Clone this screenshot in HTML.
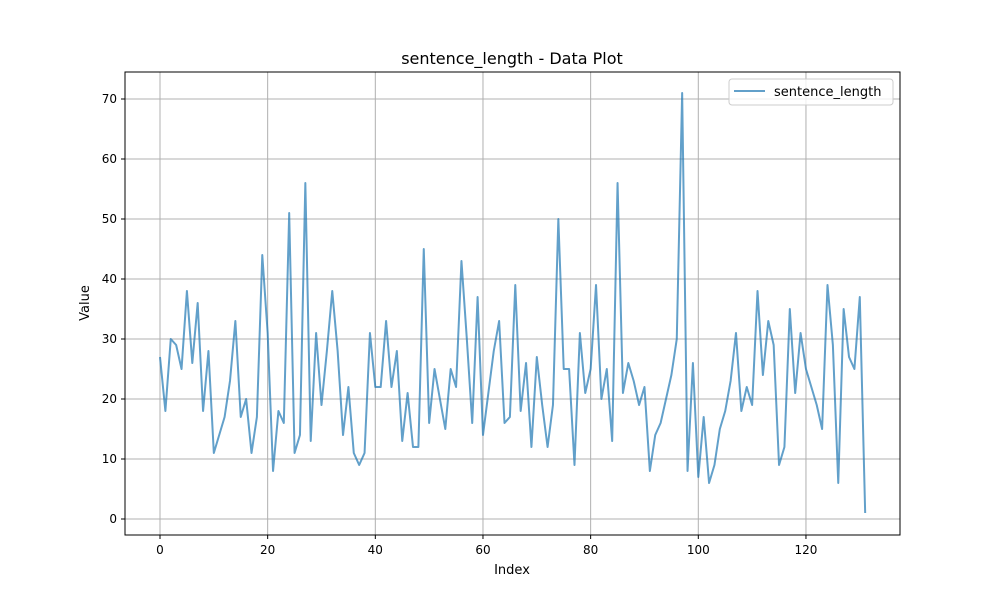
<!DOCTYPE html>
<html><head><meta charset="utf-8"><style>
body{margin:0;background:#fff;}
svg{display:block;font-family:"DejaVu Sans","Liberation Sans",sans-serif;}
</style></head><body>
<svg id="chart" width="1000" height="600">
<rect width="1000" height="600" fill="#fff"/>
<g id="grid"></g>
<g id="ticks"></g>
<path id="line" fill="none" stroke="#1f77b4" stroke-opacity="0.7" stroke-width="2" stroke-linejoin="round"/>
<rect x="125" y="72" width="775" height="463" fill="none" stroke="#000" stroke-width="1"/>
<text x="512" y="64" text-anchor="middle" font-size="16">sentence_length - Data Plot</text>
<text x="512" y="574" text-anchor="middle" font-size="13">Index</text>
<text x="89" y="303" text-anchor="middle" font-size="13" transform="rotate(-90 89 303)">Value</text>
<g>
<rect x="729" y="79" width="164" height="26" rx="3" fill="#fff" fill-opacity="0.8" stroke="#ccc"/>
<line x1="734" y1="91" x2="765" y2="91" stroke="#1f77b4" stroke-opacity="0.7" stroke-width="2"/>
<text x="774" y="96" font-size="13">sentence_length</text>
</g>
</svg>
<script>
const values=[27,18,30,29,25,38,26,36,18,28,11,14,17,23,33,17,20,11,17,44,31,8,18,16,51,11,14,56,13,31,19,28,38,28,14,22,11,9,11,31,22,22,33,22,28,13,21,12,12,45,16,25,20,15,25,22,43,30,16,37,14,21,28,33,16,17,39,18,26,12,27,19,12,19,50,25,25,9,31,21,25,39,20,25,13,56,21,26,23,19,22,8,14,16,20,24,30,71,8,26,7,17,6,9,15,18,23,31,18,22,19,38,24,33,29,9,12,35,21,31,25,22,19,15,39,29,6,35,27,25,37,1];
const xTicks=[0,20,40,60,80,100,120];
const yTicks=[0,10,20,30,40,50,60,70];
const X=v=>160+v*5.383, Y=v=>519-v*6;
const ns="http://www.w3.org/2000/svg";
const g=document.getElementById('grid'), t=document.getElementById('ticks');
function mk(tag,attrs,parent){const e=document.createElementNS(ns,tag);for(const k in attrs)e.setAttribute(k,attrs[k]);parent.appendChild(e);return e;}
xTicks.forEach(v=>{
  const l=mk('line',{x1:X(v),x2:X(v),y1:72,y2:535,stroke:'#b0b0b0','stroke-width':1},g);
  
  
  mk('line',{x1:X(v),x2:X(v),y1:535,y2:539,stroke:'#000'},t);
  const tx=mk('text',{x:X(v),y:554,'text-anchor':'middle','font-size':12},t);
  tx.textContent=v;
  
  
});
yTicks.forEach(v=>{
  const l=mk('line',{x1:125,x2:900,y1:Y(v),y2:Y(v),stroke:'#b0b0b0','stroke-width':1},g);
  
  
  mk('line',{x1:121,x2:125,y1:Y(v),y2:Y(v),stroke:'#000'},t);
  const tx=mk('text',{x:117,y:Y(v)+4,'text-anchor':'end','font-size':12},t);
  tx.textContent=v;
  
  
});
document.getElementById('line').setAttribute('d',values.map((v,i)=>(i?'L':'M')+X(i)+','+Y(v)).join(''));
</script>
</body></html>
